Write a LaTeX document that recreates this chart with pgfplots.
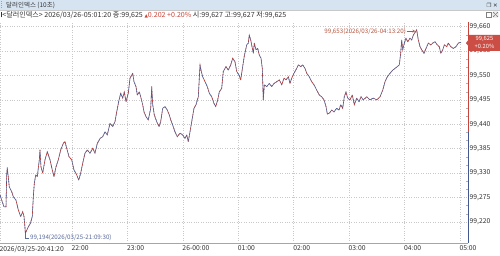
\documentclass[border=0pt]{standalone}
\usepackage{fontspec}
\setmainfont{Noto Sans CJK KR}
\newfontfamily\dv{DejaVu Sans}
\usepackage{pgfplots}
\usepackage{pgfplotstable}
\pgfplotsset{compat=1.18}
\definecolor{upred}{HTML}{C8443A}
\definecolor{dnblue}{HTML}{45578F}
\definecolor{gridc}{HTML}{C8C8C8}
\definecolor{titlebg}{HTML}{D6E4F2}
\definecolor{txt}{HTML}{333333}
\definecolor{annred}{HTML}{B5553F}
\definecolor{annblue}{HTML}{5A6A9A}
\pgfplotstableread{
h v
20.700 99.281
20.731 99.269
20.773 99.254
20.809 99.254
20.821 99.326
20.832 99.342
20.868 99.299
20.912 99.288
20.940 99.277
20.989 99.269
21.031 99.247
21.074 99.232
21.110 99.243
21.134 99.232
21.150 99.209
21.158 99.194
21.200 99.206
21.250 99.217
21.283 99.232
21.302 99.277
21.320 99.307
21.345 99.326
21.374 99.322
21.410 99.360
21.422 99.382
21.440 99.344
21.471 99.330
21.513 99.360
21.554 99.378
21.603 99.360
21.644 99.337
21.675 99.322
21.711 99.344
21.753 99.360
21.796 99.382
21.843 99.397
21.874 99.401
21.904 99.386
21.946 99.367
21.995 99.360
22.036 99.337
22.085 99.326
22.121 99.314
22.157 99.330
22.193 99.352
22.235 99.375
22.276 99.382
22.325 99.375
22.374 99.386
22.415 99.375
22.457 99.397
22.506 99.408
22.554 99.412
22.596 99.423
22.637 99.416
22.686 99.442
22.735 99.435
22.776 99.446
22.807 99.468
22.849 99.495
22.879 99.510
22.915 99.499
22.944 99.513
22.975 99.491
23.016 99.510
23.047 99.544
23.096 99.555
23.119 99.536
23.155 99.525
23.179 99.506
23.215 99.513
23.240 99.502
23.276 99.484
23.300 99.468
23.336 99.457
23.377 99.450
23.421 99.476
23.439 99.525
23.457 99.484
23.486 99.461
23.529 99.446
23.571 99.435
23.601 99.446
23.637 99.476
23.679 99.480
23.720 99.472
23.756 99.461
23.782 99.450
23.818 99.438
23.859 99.423
23.901 99.412
23.950 99.420
23.998 99.416
24.040 99.408
24.071 99.416
24.099 99.401
24.130 99.423
24.161 99.446
24.202 99.476
24.238 99.484
24.280 99.502
24.311 99.574
24.329 99.562
24.359 99.547
24.401 99.536
24.442 99.525
24.479 99.510
24.522 99.502
24.563 99.487
24.594 99.480
24.630 99.495
24.659 99.513
24.702 99.521
24.731 99.559
24.780 99.570
24.821 99.562
24.865 99.574
24.901 99.589
24.942 99.581
24.973 99.559
25.015 99.551
25.045 99.540
25.081 99.570
25.110 99.594
25.154 99.619
25.182 99.623
25.200 99.641
25.226 99.630
25.249 99.615
25.273 99.600
25.291 99.623
25.321 99.608
25.352 99.611
25.381 99.596
25.412 99.589
25.435 99.566
25.453 99.495
25.471 99.529
25.515 99.525
25.562 99.532
25.605 99.525
25.646 99.532
25.695 99.536
25.742 99.540
25.786 99.529
25.827 99.544
25.863 99.540
25.905 99.547
25.935 99.532
25.966 99.544
26.007 99.555
26.056 99.566
26.085 99.574
26.128 99.570
26.164 99.574
26.206 99.566
26.237 99.555
26.284 99.547
26.327 99.536
26.368 99.529
26.417 99.517
26.464 99.506
26.507 99.502
26.549 99.495
26.585 99.480
26.609 99.463
26.644 99.465
26.688 99.472
26.729 99.468
26.778 99.476
26.820 99.472
26.850 99.484
26.886 99.476
26.915 99.502
26.946 99.513
26.976 99.499
27.018 99.495
27.060 99.506
27.096 99.484
27.139 99.499
27.181 99.491
27.217 99.502
27.258 99.495
27.320 99.502
27.379 99.495
27.439 99.499
27.500 99.495
27.560 99.502
27.609 99.517
27.650 99.536
27.692 99.547
27.740 99.555
27.789 99.562
27.831 99.566
27.872 99.570
27.908 99.574
27.933 99.600
27.951 99.630
27.970 99.608
27.999 99.623
28.029 99.634
28.060 99.626
28.101 99.634
28.132 99.630
28.161 99.641
28.222 99.653
28.251 99.630
28.282 99.615
28.312 99.608
28.354 99.600
28.390 99.611
28.432 99.623
28.475 99.619
28.511 99.623
28.553 99.626
28.594 99.619
28.630 99.615
28.656 99.600
28.692 99.608
28.721 99.619
28.764 99.615
28.793 99.623
28.837 99.615
28.883 99.611
28.932 99.615
28.973 99.623
29.022 99.625
}\dollar
\begin{document}
\begin{tikzpicture}
\path[use as bounding box,fill=white] (0bp,-13bp) rectangle (500bp,243bp);
\begin{axis}[
  scale only axis, width=468bp, height=221bp,
  xmin=20.7004, xmax=29.148, ymin=99.1724, ymax=99.6706,
  axis x line*=bottom, axis y line*=right,
  axis line style={gray!70, line width=0.5bp},
  xtick={20.7004,22,23,24,25,26,27,28,29},
  xticklabels={2026/03/25-20:41:20,22:00,23:00,26-00:00,01:00,02:00,03:00,04:00,05:00},
  ytick={99.220,99.275,99.330,99.385,99.440,99.495,99.550,99.605,99.660},
  yticklabels={{99,220},{99,275},{99,330},{99,385},{99,440},{99,495},{99,550},{99,605},{99,660}},
  minor y tick num=2,
  xtick style={draw=none},
  ytick style={draw=none},
  minor tick length=2bp,
  minor y tick style={draw=gray!60, line width=0.4bp},
  xticklabel style={anchor=north west, inner sep=0, xshift=-0.5bp, yshift=-2.5bp, font=\fontsize{6.8}{7}\selectfont, text=txt},
  yticklabel style={anchor=west, inner sep=0, xshift=1.5bp, font=\fontsize{6.8}{7}\selectfont, text=txt},
  grid=major,
  major grid style={gridc, dotted, line width=0.5bp},
  minor grid style={draw=none},
  clip=false,
]
\addplot[dnblue, line width=0.6bp, line join=round] table[x=h,y=v] {\dollar};
\addplot[upred, line width=0.6bp, dash pattern=on 1.2bp off 1.6bp] table[x=h,y=v] {\dollar};
% right axis coloured by previous close
\draw[upred, line width=1bp] (axis cs:29.148,99.6706) -- (axis cs:29.148,99.423);
\draw[dnblue, line width=1bp] (axis cs:29.148,99.423) -- (axis cs:29.148,99.1724);
% annotations
\node[anchor=east,inner sep=0,text=annred,font=\fontsize{6.2}{7}\selectfont] at (axis cs:28.03,99.650) {99,653(2026/03/26-04:13:20)};
\draw[annred,line width=0.4bp,-stealth] (axis cs:28.04,99.650) -- (axis cs:28.20,99.650);
\draw[annblue,line width=0.4bp] (axis cs:21.158,99.194) -- (axis cs:21.158,99.184) -- (axis cs:21.23,99.184);
\node[anchor=west,inner sep=0,text=annblue,font=\fontsize{6.2}{7}\selectfont] at (axis cs:21.24,99.184) {99,194(2026/03/25-21:09:30)};
\end{axis}
\begin{scope}[x=1bp,y=1bp]
% title bar
\fill[titlebg] (0,233) rectangle (500,243);
\draw[gridc,line width=0.5bp] (0,233) -- (500,233);
\node[anchor=west,inner sep=0,text=txt,font=\fontsize{6.5}{7}\selectfont] at (6,238) {달러인덱스 (10초)};
\foreach \yy in {235.5,237.5,239.5,241.5}{\fill[gray] (1.5,\yy) circle (0.35);}
\node[anchor=east,inner sep=0,font=\dv\fontsize{5.5}{6}\selectfont,text=txt] at (498,238) {❐ ✕};
% info line
\node[anchor=west,inner sep=0,text=txt,font=\fontsize{7.1}{7}\selectfont] at (1,228) {\rule{1.2bp}{5bp}<달러인덱스> 2026/03/26-05:01:20 종:99,625 \textcolor{upred}{{\dv\fontsize{4.5}{5}\selectfont ▲}0.202 +0.20\%} 시:99,627 고:99,627 저:99,625};
\draw[gray,line width=0.4bp] (486,226) rectangle (491,231);
\draw[gray,line width=0.4bp] (493,226) rectangle (498,231) (493,226)--(498,231) (493,231)--(498,226);
% price tag
\fill[upred!95!white] (466,200) -- (469,204) -- (469,208) -- (500,208) -- (500,192) -- (469,192) -- (469,196) -- cycle;
\node[text=white,inner sep=0,font=\fontsize{5.8}{6}\selectfont] at (484.5,204) {99,625};
\node[text=white,inner sep=0,font=\fontsize{5.8}{6}\selectfont] at (484.5,196.5) {+0.20\%};
\end{scope}
\end{tikzpicture}
\end{document}
